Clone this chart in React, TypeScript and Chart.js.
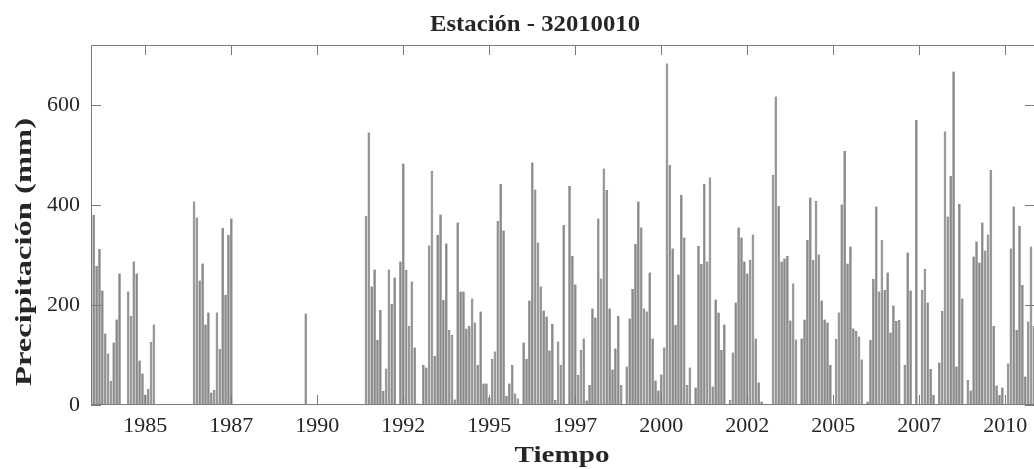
import React, { useEffect, useRef } from 'react';
import { Chart, registerables } from 'chart.js';

Chart.register(...registerables);

// Monthly precipitation (mm), Jan..Dec; null = no data
const FIRST_YEAR = 1983;
const y1983 = [null, null, null, null, null, 173, 380, 278, 312, 229, 143, 103];
const y1984 = [48, 125, 171, 263, 0, 0, 227, 178, 287, 263, 89, 63];
const y1985 = [20, 32, 126, 161, null, null, null, null, null, null, null, null];
const y1986 = [null, null, null, null, null, 407, 375, 249, 283, 161, 185, 25];
const y1987 = [30, 185, 112, 354, 220, 340, 373, null, null, null, null, null];
const y1988 = [null, null, null, null, null, null, null, null, null, null, null, null];
const y1989 = [null, null, null, null, null, null, null, null, 183, null, null, null];
const y1990 = [null, null, null, null, null, null, null, null, null, null, null, null];
const y1991 = [null, null, null, null, null, 378, 545, 237, 271, 130, 190, 28];
const y1992 = [73, 271, 202, 255, 0, 287, 483, 270, 158, 247, 115, 3];
const y1993 = [0, 80, 75, 319, 468, 98, 340, 381, 210, 323, 150, 140];
const y1994 = [11, 365, 227, 227, 153, 158, 213, 165, 80, 187, 43, 43];
const y1995 = [15, 92, 107, 368, 442, 349, 18, 43, 80, 23, 13, 0];
const y1996 = [125, 92, 209, 485, 431, 325, 237, 189, 177, 109, 162, 10];
const y1997 = [127, 80, 360, 0, 438, 298, 241, 60, 110, 133, 9, 40];
const y1998 = [193, 175, 373, 253, 473, 430, 193, 71, 113, 178, 40, 0];
const y1999 = [77, 173, 232, 322, 407, 355, 193, 187, 265, 133, 49, 29];
const y2000 = [61, 115, 683, 480, 313, 160, 261, 420, 335, 40, 75, 0];
const y2001 = [35, 318, 282, 442, 287, 455, 37, 211, 185, 110, 161, 0];
const y2002 = [10, 105, 205, 355, 335, 287, 263, 290, 341, 133, 45, 7];
const y2003 = [0, 0, 0, 460, 617, 398, 287, 293, 298, 169, 243, 131];
const y2004 = [0, 133, 171, 330, 415, 290, 408, 301, 209, 171, 165, 80];
const y2005 = [0, 132, 185, 401, 508, 283, 317, 153, 148, 137, 91, 0];
const y2006 = [7, 130, 252, 397, 227, 330, 230, 265, 145, 199, 168, 170];
const y2007 = [0, 80, 305, 229, 0, 570, 0, 230, 272, 205, 72, 20];
const y2008 = [0, 85, 188, 547, 377, 458, 667, 77, 402, 213, 0, 50];
const y2009 = [29, 297, 327, 285, 365, 309, 341, 470, 158, 39, 20, 35];
const y2010 = [0, 83, 313, 397, 150, 358, 240, 57, 167, 317, 158, null];

const years = [
  y1983, y1984, y1985, y1986, y1987, y1988, y1989, y1990, y1991, y1992,
  y1993, y1994, y1995, y1996, y1997, y1998, y1999, y2000, y2001, y2002,
  y2003, y2004, y2005, y2006, y2007, y2008, y2009, y2010,
];

// x ticks (months counted from Jan 1985) and their labels
const xTickMonths = [0, 30, 60, 90, 120, 150, 180, 210, 240, 270, 300];
const xTickLabels = ['1985', '1987', '1990', '1992', '1995', '1997', '2000', '2002', '2005', '2007', '2010'];
const yTickValues = [0, 200, 400, 600];

const TITLE = 'Estación - 32010010';
const X_TITLE = 'Tiempo';
const Y_TITLE = 'Precipitación (mm)';

const CW = 1044;
const CH = 469;
const FONT = '"Liberation Serif", "Times New Roman", serif';

export default function App() {
  const ref = useRef<HTMLCanvasElement | null>(null);

  useEffect(() => {
    const canvas = ref.current;
    if (!canvas) return;

    const points: { x: number; y: number }[] = [];
    years.forEach((arr, yi) => {
      arr.forEach((v, mi) => {
        if (v === null) return;
        const m = (FIRST_YEAR + yi - 1985) * 12 + mi;
        points.push({ x: m, y: v as number });
      });
    });

    const drawText = (
      ctx: CanvasRenderingContext2D,
      text: string,
      x: number,
      y: number,
      width: number,
      font: string,
      rot: number
    ) => {
      ctx.save();
      ctx.font = font;
      const w = ctx.measureText(text).width;
      ctx.translate(x, y);
      ctx.rotate(rot);
      ctx.scale(width / w, 1);
      ctx.textAlign = 'center';
      ctx.textBaseline = 'alphabetic';
      ctx.fillStyle = '#262626';
      ctx.fillText(text, 0, 0);
      ctx.restore();
    };

    const framePlugin = {
      id: 'frame',
      afterDraw(chart: any) {
        const { ctx, chartArea } = chart;
        const { left, right, top, bottom } = chartArea;
        const xs = chart.scales.x;
        const ys = chart.scales.y;
        ctx.save();
        ctx.strokeStyle = '#7a7a7a';
        ctx.lineWidth = 1;
        ctx.beginPath();
        ctx.rect(left + 0.5, top + 0.5, right - left - 1, bottom - top - 1);
        const tl = 10;
        xTickMonths.forEach((m) => {
          const px = Math.round(xs.getPixelForValue(m)) + 0.5;
          ctx.moveTo(px, bottom);
          ctx.lineTo(px, bottom - tl);
          ctx.moveTo(px, top);
          ctx.lineTo(px, top + tl);
        });
        yTickValues.forEach((v) => {
          const py = Math.round(ys.getPixelForValue(v)) + 0.5;
          ctx.moveTo(left, py);
          ctx.lineTo(left + tl, py);
          ctx.moveTo(right, py);
          ctx.lineTo(right - tl, py);
        });
        ctx.stroke();
        ctx.restore();

        const bold = `bold 24px ${FONT}`;
        drawText(ctx, TITLE, 535, 31, 210, bold, 0);
        drawText(ctx, X_TITLE, 562, 462, 95, bold, 0);
        drawText(ctx, Y_TITLE, 31, 252, 268, bold, -Math.PI / 2);
      },
    };

    const chart = new Chart(canvas, {
      type: 'bar',
      data: {
        datasets: [
          {
            data: points as any,
            backgroundColor: '#8a8a8a',
            borderColor: '#4a4a4a',
            borderWidth: 0.5,
            barPercentage: 0.9,
            categoryPercentage: 1,
          },
        ],
      },
      options: {
        responsive: false,
        animation: false,
        devicePixelRatio: 1,
        layout: { padding: { left: 41, right: CW - 1035, top: 45, bottom: 24 } },
        plugins: { legend: { display: false }, tooltip: { enabled: false }, title: { display: false } },
        scales: {
          x: {
            type: 'linear',
            min: -18.95,
            max: 310.4,
            offset: false,
            grid: { display: false, drawTicks: false },
            border: { display: false },
            afterFit: (s: any) => {
              s.height = 40;
            },
            afterBuildTicks: (s: any) => {
              s.ticks = xTickMonths.map((value) => ({ value }));
            },
            ticks: {
              autoSkip: false,
              maxRotation: 0,
              minRotation: 0,
              padding: 8,
              color: '#262626',
              font: { family: FONT, size: 22 },
              callback: (v: any) => {
                const i = xTickMonths.indexOf(Number(v));
                return i >= 0 ? xTickLabels[i] : '';
              },
            },
          },
          y: {
            type: 'linear',
            min: 0,
            max: 720,
            grid: { display: false, drawTicks: false },
            border: { display: false },
            afterFit: (s: any) => {
              s.width = 50;
            },
            afterBuildTicks: (s: any) => {
              s.ticks = yTickValues.map((value) => ({ value }));
            },
            ticks: {
              padding: 11,
              color: '#262626',
              font: { family: FONT, size: 22 },
              callback: (v: any) => String(v),
            },
          },
        },
      },
      plugins: [framePlugin],
    });

    return () => chart.destroy();
  }, []);

  return (
    <div
      style={{
        position: 'absolute',
        left: 0,
        top: 0,
        width: 1034,
        height: 469,
        overflow: 'hidden',
        background: '#ffffff',
      }}
    >
      <canvas ref={ref} width={CW} height={CH} style={{ display: 'block', width: CW, height: CH }} />
    </div>
  );
}
